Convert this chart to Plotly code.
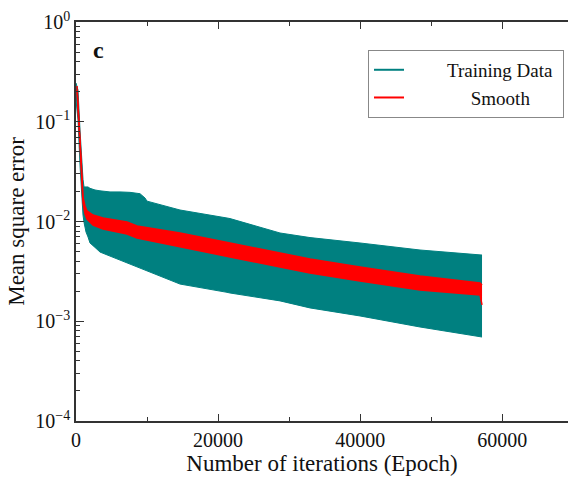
import plotly.graph_objects as go

# ---- data ----
train_epoch = [0, 281, 563, 845, 985, 1126, 1408, 1689, 1971, 2674, 3378, 4786, 6193,
               7600, 9008, 9712, 9993, 14638, 21253, 21676, 28713, 31528, 32935,
               39973, 48418, 57145]
train_upper = [0.2446, 0.208, 0.0827, 0.0328, 0.0265, 0.0222, 0.0222, 0.0222, 0.0215,
               0.0207, 0.0203, 0.0198, 0.0198, 0.0196, 0.0190, 0.0172, 0.0160,
               0.01304, 0.01084, 0.0107, 0.00767, 0.00716, 0.0069, 0.00609,
               0.00518, 0.00461]
train_lower = [0.165, 0.104, 0.0368, 0.0160, 0.0116, 0.0098, 0.00785, 0.0070, 0.00609,
               0.0055, 0.00494, 0.0045, 0.00411, 0.0037, 0.0034, 0.00327, 0.0032,
               0.00236, 0.00195, 0.00192, 0.0016, 0.00142, 0.00136, 0.00113,
               0.000876, 0.000695]

smooth_epoch = [141, 422, 704, 985, 1267, 1548, 2393, 3800, 7178, 8586, 14638, 21676,
                28713, 32935, 39973, 48418, 56863, 57145]
smooth_upper = [0.2283, 0.1090, 0.0433, 0.01760, 0.01430, 0.01275, 0.01162, 0.01084,
                0.00989, 0.00902, 0.00767, 0.00609, 0.00483, 0.00421, 0.00350,
                0.00284, 0.00242, 0.00231]
smooth_lower = [0.2081, 0.0994, 0.0386, 0.01533, 0.01189, 0.01060, 0.00922, 0.00841,
                0.00749, 0.00683, 0.00555, 0.00441, 0.00350, 0.00305, 0.00253,
                0.00206, 0.00183, 0.00146]

y_tickvals = [1e-4, 1e-3, 1e-2, 1e-1, 1e0]
y_ticktext = ["10<sup>\u22124</sup>", "10<sup>\u22123</sup>", "10<sup>\u22122</sup>",
              "10<sup>\u22121</sup>", "10<sup>0</sup>"]
x_tickvals = [0, 20000, 40000, 60000]
x_ticktext = ["0", "20000", "40000", "60000"]
legend_names = ["Training Data", "Smooth"]

TEAL = "#008080"
RED = "#ff0000"
FONT = "'Liberation Serif', 'Times New Roman', Times, serif"
AX = "#333333"
NB = "\u00a0"

fig = go.Figure()

# training data band
fig.add_trace(go.Scatter(x=train_epoch, y=train_lower, mode="lines",
                         line=dict(color=TEAL, width=1), showlegend=False,
                         hoverinfo="skip"))
fig.add_trace(go.Scatter(x=train_epoch, y=train_upper, mode="lines",
                         line=dict(color=TEAL, width=1), fill="tonexty",
                         fillcolor=TEAL, showlegend=False, hoverinfo="skip"))
# smooth band
fig.add_trace(go.Scatter(x=smooth_epoch, y=smooth_lower, mode="lines",
                         line=dict(color=RED, width=1.5), showlegend=False,
                         hoverinfo="skip"))
fig.add_trace(go.Scatter(x=smooth_epoch, y=smooth_upper, mode="lines",
                         line=dict(color=RED, width=1.5), fill="tonexty",
                         fillcolor=RED, showlegend=False, hoverinfo="skip"))

# legend entries
fig.add_trace(go.Scatter(x=[None], y=[None], mode="lines",
                         name=NB * 8 + legend_names[0] + NB,
                         line=dict(color=TEAL, width=2)))
fig.add_trace(go.Scatter(x=[None], y=[None], mode="lines",
                         name=NB * 13 + legend_names[1],
                         line=dict(color=RED, width=2)))

minor_y = [m * 10.0 ** e for e in range(-4, 0) for m in range(2, 10)]

fig.update_layout(
    width=568, height=477,
    margin=dict(l=76, r=0, t=22, b=56),
    paper_bgcolor="white", plot_bgcolor="white",
    font=dict(family=FONT, size=20, color="#111111"),
    legend=dict(x=0.5935, y=0.93, xanchor="left", yanchor="top",
                bordercolor="#888888", borderwidth=1, bgcolor="white",
                font=dict(family=FONT, size=19, color="#111111"),
                traceorder="normal", tracegroupgap=0),
    xaxis=dict(range=[0, 69247], tickmode="array", tickvals=x_tickvals,
               ticktext=x_ticktext, ticks="inside", ticklen=7, tickwidth=1.2,
               tickcolor=AX, showline=True, linecolor=AX, linewidth=1.5,
               mirror="ticks", showgrid=False, zeroline=False,
               minor=dict(tickmode="array", tickvals=[10000, 30000, 50000],
                          ticks="inside", ticklen=4, tickwidth=1.2, tickcolor=AX),
               title=dict(text="Number of iterations (Epoch)",
                          font=dict(family=FONT, size=23), standoff=0)),
    yaxis=dict(type="log", range=[-4, 0], tickmode="array", tickvals=y_tickvals,
               ticktext=y_ticktext, ticks="inside", ticklen=8, tickwidth=1.2,
               tickcolor=AX, showline=True, linecolor=AX, linewidth=1.5,
               mirror=False, showgrid=False, zeroline=False,
               minor=dict(tickmode="array", tickvals=minor_y, ticks="inside",
                          ticklen=4, tickwidth=1, tickcolor=AX),
               title=dict(text="Mean square error",
                          font=dict(family=FONT, size=23), standoff=4)),
    annotations=[dict(text="<b>c</b>", x=0.045, y=0.93, xref="paper",
                      yref="paper", showarrow=False, xanchor="center",
                      yanchor="middle", font=dict(family=FONT, size=24,
                                                  color="#111111"))],
)

fig.write_html("out.html")
